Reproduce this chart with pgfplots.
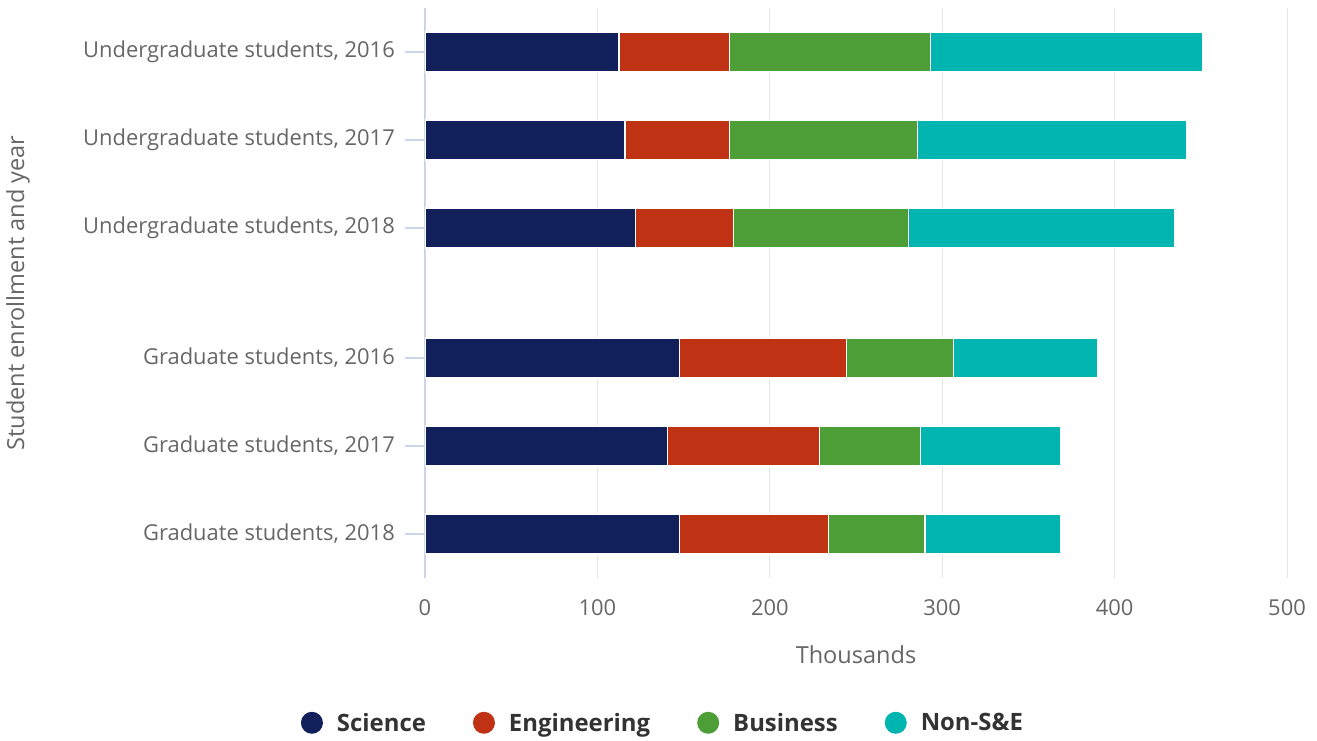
\documentclass[border=0pt]{standalone}
\usepackage{pgfplots}
\pgfplotsset{compat=1.18}
\usepackage{fontspec}
\setmainfont{Open Sans}
\definecolor{sci}{HTML}{111F5A}
\definecolor{eng}{HTML}{BF3214}
\definecolor{bus}{HTML}{4E9E38}
\definecolor{non}{HTML}{00B4B0}
\definecolor{tickgray}{HTML}{666666}
\definecolor{axblue}{HTML}{CCD6EB}
\definecolor{gridgray}{HTML}{E6E6E6}
\definecolor{legtext}{HTML}{333333}
\begin{document}
\begin{tikzpicture}[x=1bp,y=1bp]
\useasboundingbox (0,0) rectangle (1317,740);
\begin{axis}[
  at={(425bp,162bp)}, anchor=south west,
  width=862bp, height=570bp, scale only axis,
  xbar stacked, bar width=40bp,
  xmin=0, xmax=500, ymin=-0.5, ymax=5.977, y dir=reverse,
  xtick={0,100,200,300,400,500},
  ytick={0,1,2,3.477,4.477,5.477},
  yticklabels={Undergraduate students{,} 2016,Undergraduate students{,} 2017,Undergraduate students{,} 2018,Graduate students{,} 2016,Graduate students{,} 2017,Graduate students{,} 2018},
  xmajorgrids, grid style={color=gridgray, line width=1bp},
  axis lines*=left,
  x axis line style={draw=none},
  y axis line style={color=axblue, line width=1.2bp},
  x tick style={draw=none},
  y tick style={draw=axblue, line width=1.2bp},
  tick align=outside, ytick pos=left, xtick pos=bottom,
  ymajorticks=true,
  major tick length=20bp,
  ticklabel style={font=\fontsize{22}{26}\selectfont, text=tickgray},
  /pgf/number format/assume math mode=true,
  yticklabel style={inner sep=0pt, xshift=-10bp},
  xticklabel style={yshift=2bp},
  xlabel={Thousands}, ylabel={Student enrollment and year},
  label style={font=\fontsize{23.6}{28}\selectfont, text=tickgray},
  xlabel style={at={(axis description cs:0.5,-0.135)}, anchor=center},
  ylabel style={at={(axis description cs:-0.472,0.5)}, anchor=center, rotate=0},
  legend columns=4,
  legend style={at={(axis description cs:0.276,-0.254)}, anchor=center, draw=none, fill=none,
    font=\fontsize{24}{28}\selectfont\bfseries, text=legtext,
    /tikz/every even column/.append style={column sep=45bp}},
  legend image code/.code={\path[fill=none,draw=none] (-11bp,-11bp) rectangle (23bp,11bp); \fill[#1, draw=none] (0bp,0bp) circle (11bp);},
  every axis plot/.append style={draw=white, line width=1.2bp},
]
\addplot[fill=sci] coordinates {(112.5,0) (116,1) (122,2) (147.5,3.477) (140.5,4.477) (147.5,5.477)};
\addplot[fill=eng] coordinates {(64,0) (60.5,1) (57,2) (97,3.477) (88.5,4.477) (86.5,5.477)};
\addplot[fill=bus] coordinates {(116.5,0) (109,1) (101.5,2) (62,3.477) (58.5,4.477) (56,5.477)};
\addplot[fill=non] coordinates {(158,0) (156,1) (154.5,2) (83.5,3.477) (81,4.477) (78.5,5.477)};
\legend{Science,Engineering,Business,Non-S\&E}
\end{axis}
\end{tikzpicture}
\end{document}
